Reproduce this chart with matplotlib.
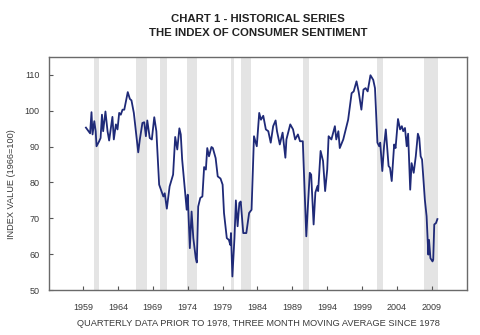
import matplotlib
matplotlib.use("Agg")
import matplotlib.pyplot as plt

# Index of Consumer Sentiment (1966=100)
years = [1959.4, 1960.0, 1960.2, 1960.35, 1960.6, 1960.8, 1960.92, 1961.3, 1961.5, 1961.7,
         1961.87, 1962.2, 1962.5, 1962.73, 1963.2, 1963.4, 1963.7, 1963.93, 1964.17, 1964.4,
         1964.65, 1964.9, 1965.4, 1965.7, 1965.93, 1966.27, 1966.9, 1967.13, 1967.5, 1967.76,
         1968.0, 1968.2, 1968.55, 1968.85, 1969.2, 1969.5, 1969.9, 1970.5, 1970.7, 1971.0,
         1971.4, 1971.9, 1972.2, 1972.5, 1972.8, 1973.0, 1973.2, 1973.85, 1974.0, 1974.3,
         1974.55, 1974.8, 1975.15, 1975.3, 1975.5, 1975.8, 1976.1, 1976.35, 1976.6, 1976.8,
         1977.05, 1977.4, 1977.6, 1978.0, 1978.3, 1978.7, 1979.0, 1979.2, 1979.6, 1979.9,
         1980.1, 1980.2, 1980.4, 1980.7, 1980.9, 1981.15, 1981.4, 1981.6, 1981.96, 1982.4,
         1982.8, 1983.15, 1983.5, 1983.9, 1984.25, 1984.5, 1984.83, 1985.2, 1985.55, 1985.9,
         1986.25, 1986.6, 1986.8, 1987.2, 1987.6, 1988.0, 1988.15, 1988.7, 1989.1, 1989.4,
         1989.8, 1990.1, 1990.5, 1991.0, 1991.2, 1991.5, 1991.7, 1992.05, 1992.3, 1992.6,
         1992.7, 1993.05, 1993.4, 1993.7, 1994.0, 1994.2, 1994.6, 1995.1, 1995.3, 1995.6,
         1995.8, 1996.3, 1997.0, 1997.5, 1997.8, 1998.2, 1998.5, 1998.9, 1999.2, 1999.5,
         1999.8, 2000.2, 2000.6, 2000.85, 2001.2, 2001.45, 2001.6, 2001.9, 2002.15, 2002.4,
         2002.8, 2003.0, 2003.25, 2003.6, 2003.8, 2004.15, 2004.45, 2004.7, 2004.9, 2005.15,
         2005.4, 2005.6, 2005.9, 2006.1, 2006.4, 2006.7, 2007.0, 2007.2, 2007.4, 2007.6,
         2008.0, 2008.25, 2008.5, 2008.6, 2008.8, 2009.1, 2009.2, 2009.35, 2009.6, 2009.8]
sentiment = [95.3, 93.7, 99.6, 93.4, 97.1, 94.3, 90.1, 91.5, 92.4, 98.9,
             94.3, 99.8, 94.3, 91.7, 98.3, 92.0, 96.2, 94.8, 99.4, 98.9,
             100.3, 100.3, 105.2, 103.3, 102.9, 99.4, 88.4, 92.0, 96.6, 96.8,
             92.9, 97.3, 92.4, 92.0, 98.2, 94.3, 79.4, 76.1, 77.0, 72.7,
             78.9, 82.2, 92.7, 89.2, 95.1, 93.4, 86.4, 72.4, 76.6, 61.7,
             71.9, 64.5, 58.9, 57.7, 73.3, 75.7, 76.1, 84.3, 83.6, 89.6,
             87.3, 89.9, 89.6, 86.8, 81.7, 81.1, 79.4, 71.5, 64.5, 64.0,
             62.6, 65.9, 53.8, 64.5, 75.0, 67.8, 74.3, 74.7, 65.9, 65.9,
             71.5, 72.4, 92.9, 90.1, 99.4, 97.5, 98.6, 94.8, 94.3, 91.1,
             95.7, 97.3, 94.3, 90.6, 93.9, 86.9, 92.0, 96.2, 94.8, 92.0,
             93.4, 91.5, 91.5, 65.0, 72.4, 82.7, 82.2, 68.3, 77.2, 79.0,
             77.6, 88.8, 86.0, 77.6, 83.6, 92.9, 92.0, 95.7, 92.0, 94.3,
             89.6, 92.0, 97.5, 104.9, 105.4, 108.2, 105.4, 100.3, 105.9, 106.3,
             105.4, 109.9, 108.6, 106.3, 91.1, 90.1, 91.1, 83.2, 90.1, 94.8,
             84.6, 84.1, 80.4, 90.6, 89.6, 97.7, 94.8, 95.7, 94.3, 95.2,
             90.1, 93.6, 78.0, 85.4, 82.7, 87.3, 93.6, 92.4, 87.3, 86.4,
             75.2, 70.6, 59.9, 64.0, 58.9, 58.0, 58.5, 68.3, 68.7, 69.8]

# shaded recession periods
rec_start = [1960.5, 1966.6, 1970.05, 1973.9, 1980.15, 1981.6, 1990.55, 2001.15, 2007.9]
rec_end = [1961.3, 1968.1, 1971.05, 1975.3, 1980.7, 1983.0, 1991.35, 2001.95, 2009.9]

x_ticks = [1959, 1964, 1969, 1974, 1979, 1984, 1989, 1994, 1999, 2004, 2009]
y_ticks = [50, 60, 70, 80, 90, 100, 110]

plt.rcParams["font.family"] = ["Liberation Sans", "DejaVu Sans"]

fig = plt.figure(figsize=(4.8, 3.35), dpi=100)
ax = fig.add_axes([0.102, 0.134, 0.871, 0.696])

for a, b in zip(rec_start, rec_end):
    ax.axvspan(a, b, color="#e4e4e4", lw=0, zorder=0)

ax.plot(years, sentiment, color="#1f2a78", lw=1.3, zorder=2)

ax.set_xlim(1954.1, 2014.05)
ax.set_ylim(50, 115)
ax.set_xticks(x_ticks)
ax.set_yticks(y_ticks)
ax.tick_params(direction="in", length=3, width=0.8, labelsize=6.5,
               labelcolor="#3a3a3a", color="#555555")
ax.tick_params(axis="x", pad=9)
ax.tick_params(axis="y", pad=7)

for side in ax.spines:
    ax.spines[side].set_color("#6a6a6a")
    ax.spines[side].set_linewidth(1.0)

ax.set_ylabel("INDEX VALUE (1966=100)", fontsize=6.6, color="#3a3a3a")
ax.yaxis.set_label_coords(-0.079, 0.455)
ax.set_xlabel("QUARTERLY DATA PRIOR TO 1978, THREE MONTH MOVING AVERAGE SINCE 1978",
              fontsize=6.65, color="#3a3a3a", labelpad=5)

fig.text(0.5375, 0.943, "CHART 1 - HISTORICAL SERIES", ha="center", va="center",
         fontsize=8.2, fontweight="bold", color="#222222")
fig.text(0.5375, 0.900, "THE INDEX OF CONSUMER SENTIMENT", ha="center", va="center",
         fontsize=8.2, fontweight="bold", color="#222222")

fig.savefig("out.png", dpi=100)
